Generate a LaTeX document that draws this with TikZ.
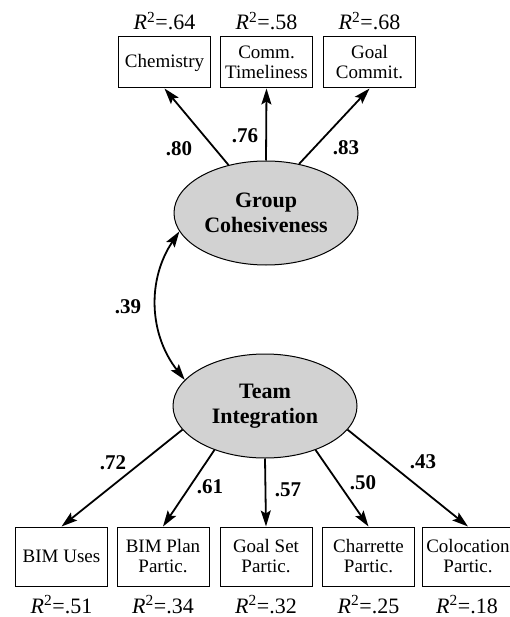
\documentclass[tikz,border=0pt]{standalone}
\usepackage{fontspec}
\setmainfont{Liberation Serif}
\usetikzlibrary{arrows.meta,positioning,shapes.geometric}
\tikzset{
    indicator/.style={draw,line width=1pt,minimum width=92pt,align=center,inner sep=1pt,font=\fontsize{19}{20}\selectfont},
    latent/.style={ellipse,draw,line width=1pt,fill=gray!35,minimum width=184pt,minimum height=104pt,inner sep=0pt,align=center,font=\bfseries\fontsize{22}{25}\selectfont},
    arr/.style={->,>={Stealth[length=16pt,width=10pt,inset=3pt]},line width=1.8pt},
    darr/.style={<->,>={Stealth[length=16pt,width=10pt,inset=3pt]},line width=1.8pt},
    loading/.style={font=\bfseries\fontsize{21}{22}\selectfont},
    rsq/.style={anchor=base,inner sep=0pt,font=\fontsize{22}{24}\selectfont},
}
\newcommand{\rsqval}[1]{\textit{R}\textsuperscript{2}=#1}

\begin{document}
\begin{tikzpicture}[x=1pt,y=-1pt]
    \useasboundingbox (0,0) rectangle (510,617);
    \clip (0,0) rectangle (510,617);

    % latent variables
    \node[latent] (gc) at (266,213) {Group\\Cohesiveness};
    \node[latent] (ti) at (265,406) {Team\\Integration};

    % indicators, top row
    \node[indicator,minimum height=51pt] (chem) at (164.5,62.5) {Chemistry};
    \node[indicator,minimum height=51pt] (comm) at (266.5,62.5) {Comm.\\Timeliness};
    \node[indicator,minimum height=51pt] (goal) at (369.5,62.5) {Goal\\Commit.};

    % indicators, bottom row
    \node[indicator,minimum height=59pt] (bim) at (61.5,556.5) {BIM Uses};
    \node[indicator,minimum height=59pt] (plan) at (163,556.5) {BIM Plan\\Partic.};
    \node[indicator,minimum height=59pt] (goalset) at (266,556.5) {Goal Set\\Partic.};
    \node[indicator,minimum height=59pt] (charrette) at (368.5,556.5) {Charrette\\Partic.};
    \node[indicator,minimum height=59pt] (coloc) at (468,556.5) {Colocation\\Partic.};

    % R squared
    \node[rsq] (rchem) at (164.5,30) {\rsqval{.64}};
    \node[rsq] (rcomm) at (266.5,30) {\rsqval{.58}};
    \node[rsq] (rgoal) at (369.5,30) {\rsqval{.68}};
    \node[rsq] (rbim) at (61.5,613) {\rsqval{.51}};
    \node[rsq] (rplan) at (163,613) {\rsqval{.34}};
    \node[rsq] (rgoalset) at (266,613) {\rsqval{.32}};
    \node[rsq] (rcharrette) at (368.5,613) {\rsqval{.25}};
    \node[rsq] (rcoloc) at (467,613) {\rsqval{.18}};

    % loadings
    \draw[arr] (gc.128) -- (chem.south);
    \draw[arr] (gc.north) -- (comm.south);
    \draw[arr] (gc.56) -- (goal.south);
    \draw[arr] (ti.196) -- (bim.north);
    \draw[arr] (ti.221) -- (plan.north);
    \draw[arr] (ti.south) -- (goalset.north);
    \draw[arr] (ti.319) -- (charrette.north);
    \draw[arr] (ti.344) -- (coloc.north);
    \draw[darr] (gc.192) to[bend right=36] (ti.162);

    \node[loading] (l1) at (179,149) {.80};
    \node[loading] (l2) at (245,136) {.76};
    \node[loading] (l3) at (346,148) {.83};
    \node[loading] (l4) at (128,307) {.39};
    \node[loading] (l5) at (113,463) {.72};
    \node[loading] (l6) at (210,487) {.61};
    \node[loading] (l7) at (288,490) {.57};
    \node[loading] (l8) at (363,483) {.50};
    \node[loading] (l9) at (423,462) {.43};
\end{tikzpicture}
\end{document}
